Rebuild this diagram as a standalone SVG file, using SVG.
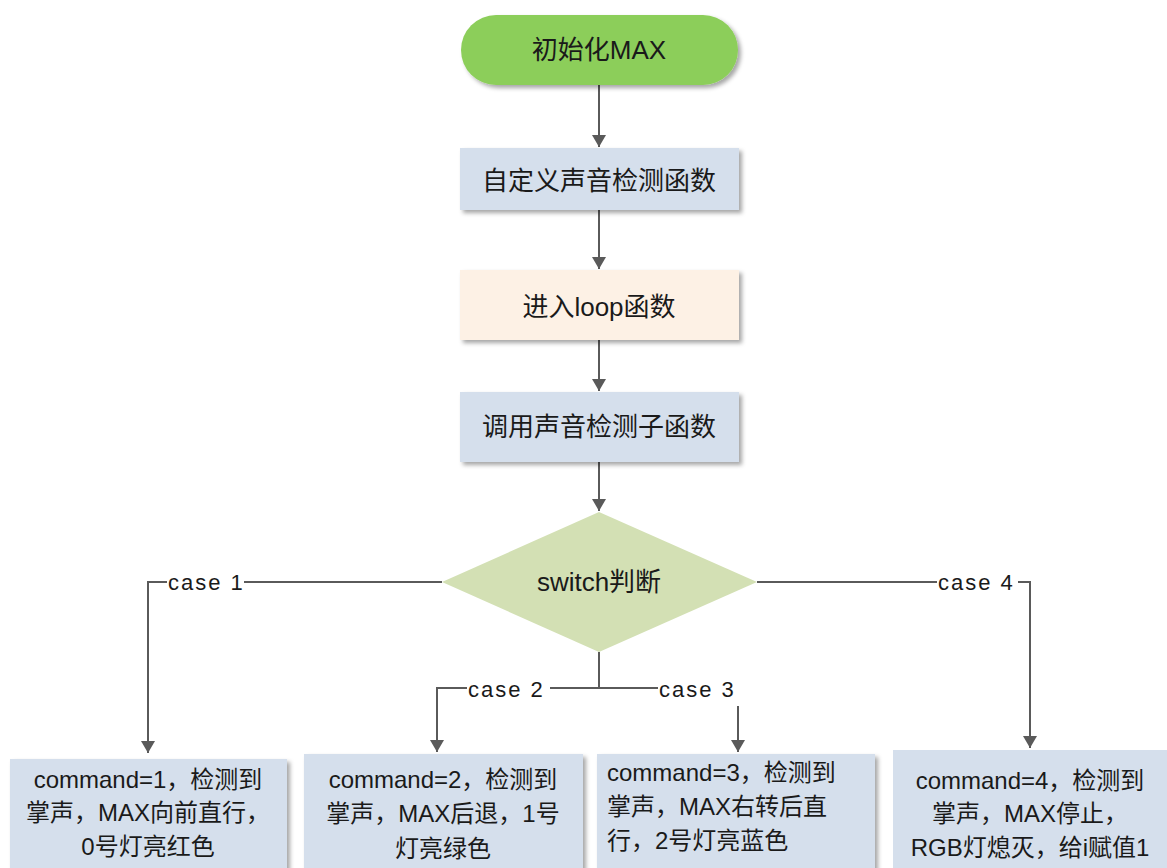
<svg xmlns="http://www.w3.org/2000/svg" width="1167" height="868" viewBox="0 0 1167 868">
<defs>
<style>
.t{font-family:"Liberation Sans","Noto Sans CJK SC",sans-serif;fill:#1a1a1a;}
.c{text-anchor:middle;}
.big{font-size:26px;}
.mid{font-size:24px;}
.lbl{font-size:22px;letter-spacing:2px;}
.ln{fill:none;stroke:#5a5a5a;stroke-width:2;}
.blue{fill:#d5dfec;}
</style>
<filter id="sh" x="-10%" y="-10%" width="120%" height="130%">
<feDropShadow dx="3" dy="3" stdDeviation="2" flood-color="#000" flood-opacity="0.35"/>
</filter>
<marker id="ah" viewBox="0 0 12 14" refX="12" refY="7" markerWidth="12" markerHeight="14" markerUnits="userSpaceOnUse" orient="auto">
<path d="M0,0 L12,7 L0,14 Z" fill="#5a5a5a"/>
</marker>
</defs>
<rect width="1167" height="868" fill="#ffffff"/>

<g id="connectors">
<path class="ln" d="M599,85 V147" marker-end="url(#ah)"/>
<path class="ln" d="M599,210 V269" marker-end="url(#ah)"/>
<path class="ln" d="M599,340 V391" marker-end="url(#ah)"/>
<path class="ln" d="M599,462 V511" marker-end="url(#ah)"/>
<path class="ln" d="M442,582 H148 V753" marker-end="url(#ah)"/>
<path class="ln" d="M757,582 H1030 V748" marker-end="url(#ah)"/>
<path class="ln" d="M599,652 V688 H437 V752" marker-end="url(#ah)"/>
<path class="ln" d="M599,688 H738"/>
<path class="ln" d="M738,706 V752" marker-end="url(#ah)"/>
<rect x="167" y="569" width="77" height="28" fill="#ffffff"/>
<text class="t lbl" x="168" y="590">case 1</text>
<rect x="467" y="675" width="83" height="28" fill="#ffffff"/>
<text class="t lbl" x="468" y="697">case 2</text>
<rect x="658" y="675" width="83" height="28" fill="#ffffff"/>
<text class="t lbl" x="659" y="697">case 3</text>
<rect x="937" y="569" width="81" height="28" fill="#ffffff"/>
<text class="t lbl" x="938" y="590">case 4</text>
</g>

<g id="start">
<rect x="461" y="15" width="277" height="70" rx="35" ry="35" fill="#8cce5a" filter="url(#sh)"/>
<text class="t c big" x="599" y="59">初始化MAX</text>
</g>

<g id="define">
<rect class="blue" x="460" y="148" width="279" height="62" filter="url(#sh)"/>
<text class="t c big" x="599" y="190">自定义声音检测函数</text>
</g>

<g id="loop">
<rect x="460" y="270" width="279" height="70" fill="#fdf1e5" filter="url(#sh)"/>
<text class="t c big" x="599" y="316">进入loop函数</text>
</g>

<g id="call">
<rect class="blue" x="460" y="392" width="279" height="70" filter="url(#sh)"/>
<text class="t c big" x="599" y="436">调用声音检测子函数</text>
</g>

<g id="switch">
<polygon points="599,512 757,582 599,652 442,582" fill="#d3e0b4"/>
<text class="t c big" x="599" y="591">switch判断</text>
</g>

<g id="case1">
<rect class="blue" x="10" y="759" width="277" height="120" filter="url(#sh)"/>
<text class="t c mid" x="148" y="788">command=1，检测到</text>
<text class="t c mid" x="148" y="821">掌声，MAX向前直行，</text>
<text class="t c mid" x="148" y="855">0号灯亮红色</text>
</g>

<g id="case2">
<rect class="blue" x="304" y="754" width="279" height="125" filter="url(#sh)"/>
<text class="t c mid" x="443" y="788">command=2，检测到</text>
<text class="t c mid" x="443" y="822">掌声，MAX后退，1号</text>
<text class="t c mid" x="443" y="857">灯亮绿色</text>
</g>

<g id="case3">
<rect class="blue" x="597" y="754" width="278" height="125" filter="url(#sh)"/>
<text class="t mid" x="607" y="781">command=3，检测到</text>
<text class="t mid" x="607" y="815">掌声，MAX右转后直</text>
<text class="t mid" x="607" y="849">行，2号灯亮蓝色</text>
</g>

<g id="case4">
<rect class="blue" x="893" y="750" width="280" height="130"/>
<text class="t c mid" x="1030" y="789">command=4，检测到</text>
<text class="t c mid" x="1030" y="822">掌声，MAX停止，</text>
<text class="t c mid" x="1030" y="856">RGB灯熄灭，给i赋值1</text>
</g>
</svg>
